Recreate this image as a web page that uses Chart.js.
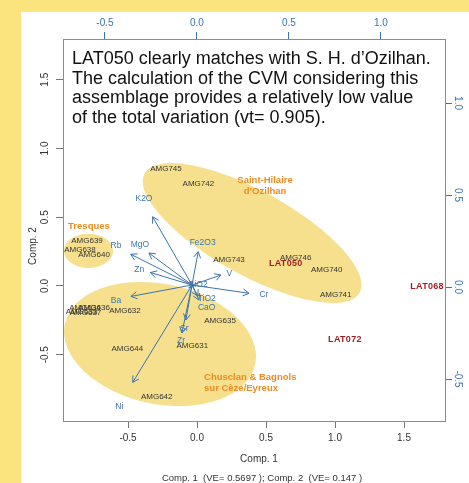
<!DOCTYPE html>
<html>
<head>
<meta charset="utf-8">
<script src="https://cdn.jsdelivr.net/npm/chart.js@4.4.1/dist/chart.umd.min.js"></script>
<style>
  html, body { margin: 0; padding: 0; }
  body { width: 469px; height: 483px; background: #fbe47e; position: relative; overflow: hidden;
         font-family: "Liberation Sans", Arial, sans-serif; }
  #sheet { position: absolute; left: 21px; top: 12px; right: 0; bottom: 0; background: #fff; }
  #chart { position: absolute; left: 0; top: 0; }
  #note { position: absolute; left: 72px; top: 49px; font-size: 18px; line-height: 19.7px; color: #111; white-space: nowrap; }
</style>
</head>
<body>
<div id="sheet"></div>
<canvas id="chart" width="469" height="483"></canvas>
<div id="note">LAT050 clearly matches with S. H. d’Ozilhan.<br>The calculation of the CVM considering this<br>assemblage provides a relatively low value<br>of the total variation (vt= 0.905).</div>
<script>
// axis ticks (scores on bottom/left, loadings on top/right)
const xTicks = [-0.5, 0, 0.5, 1, 1.5];
const yTicks = [-0.5, 0, 0.5, 1, 1.5];
const x2Ticks = [-0.5, 0, 0.5, 1];
const y2Ticks = [-0.5, 0, 0.5, 1];

// reference samples (scores)
const sampleNames = ["AMG745", "AMG742", "AMG743", "AMG746", "AMG740", "AMG741",
  "AMG639", "AMG638", "AMG640", "AMG634", "AMG636", "AMG633", "AMG637",
  "AMG632", "AMG635", "AMG631", "AMG644", "AMG642"];
const sampleX = [-0.225, 0.010, 0.232, 0.715, 0.940, 1.005,
  -0.797, -0.848, -0.746, -0.812, -0.746, -0.837, -0.808,
  -0.522, 0.167, -0.034, -0.505, -0.292];
const sampleY = [0.849, 0.740, 0.189, 0.206, 0.116, -0.065,
  0.327, 0.262, 0.225, -0.156, -0.156, -0.189, -0.193,
  -0.177, -0.250, -0.434, -0.460, -0.807];

// archaeological samples
const latNames = ["LAT050", "LAT068", "LAT072"];
const latX = [0.643, 1.667, 1.072];
const latY = [0.160, -0.007, -0.393];

// variables (loadings): label position and arrow tip
const varNames = ["K2O", "Rb", "MgO", "Zn", "Ba", "Fe2O3", "V", "Cr", "TiO2", "CaO", "SiO2", "Sr", "Zr", "Ni"];
const varLabelX = [-0.288, -0.440, -0.310, -0.314, -0.440, 0.031, 0.176, 0.364, 0.053, 0.053, 0.007, -0.069, -0.087, -0.422];
const varLabelY = [0.478, 0.223, 0.232, 0.092, -0.072, 0.241, 0.071, -0.043, -0.061, -0.113, 0.015, -0.224, -0.293, -0.648];
const varTipX = [-0.241, -0.360, -0.261, -0.253, -0.359, 0.007, 0.130, 0.283, 0.005, 0.011, -0.011, -0.060, -0.082, -0.349];
const varTipY = [0.382, 0.178, 0.185, 0.079, -0.051, 0.192, 0.065, -0.034, -0.049, -0.071, 0.008, -0.179, -0.250, -0.518];
const arrowOrigin = [-0.027, 0.011];

// production groups (ellipses in score units)
const groupNames = [["Saint-Hilaire", "d’Ozilhan"], ["Tresques"], ["Chusclan & Bagnols", "sur Cèze/Eyreux"]];
const groupLabelX = [0.493, -0.783, 0.051];
const groupLabelY = [0.771, 0.436, -0.662];
const groupAlign = ["center", "center", "left"];
const ellCx = [0.399, -0.786, -0.268];
const ellCy = [0.385, 0.255, -0.422];
const ellA = [0.891, 0.178, 0.705];
const ellB = [0.304, 0.124, 0.435];
const ellAngle = [29, 0, 12];

const FONT = '"Liberation Sans", Arial, sans-serif';
const BLUE = "#3b74ae";
const GREY = "#333333";

function arrow(ctx, x0, y0, x1, y1) {
  ctx.beginPath();
  ctx.moveTo(x0, y0);
  ctx.lineTo(x1, y1);
  const ang = Math.atan2(y1 - y0, x1 - x0), L = 7;
  ctx.moveTo(x1 - L * Math.cos(ang - Math.PI / 6), y1 - L * Math.sin(ang - Math.PI / 6));
  ctx.lineTo(x1, y1);
  ctx.lineTo(x1 - L * Math.cos(ang + Math.PI / 6), y1 - L * Math.sin(ang + Math.PI / 6));
  ctx.stroke();
}

const sketch = {
  id: "sketch",
  beforeDatasetsDraw(chart) {
    const { ctx, chartArea: a, scales: { x, y } } = chart;
    const unit = x.getPixelForValue(1) - x.getPixelForValue(0);
    ctx.save();
    ctx.beginPath();
    ctx.rect(a.left, a.top, a.right - a.left, a.bottom - a.top);
    ctx.clip();
    ctx.fillStyle = "#f6e08e";
    ellCx.forEach((cx, i) => {
      ctx.beginPath();
      ctx.ellipse(x.getPixelForValue(cx), y.getPixelForValue(ellCy[i]),
        ellA[i] * unit, ellB[i] * unit, ellAngle[i] * Math.PI / 180, 0, Math.PI * 2);
      ctx.fill();
    });
    ctx.restore();
  },
  afterDatasetsDraw(chart) {
    const { ctx, scales: { x, y, x2, y2 } } = chart;
    ctx.save();
    ctx.textBaseline = "middle";

    // group names
    ctx.fillStyle = "#f28a22";
    ctx.font = "bold 9.5px " + FONT;
    groupNames.forEach((lines, i) => {
      ctx.textAlign = groupAlign[i];
      lines.forEach((t, k) => {
        ctx.fillText(t, x.getPixelForValue(groupLabelX[i]), y.getPixelForValue(groupLabelY[i]) + k * 11);
      });
    });

    // sample labels
    ctx.textAlign = "center";
    ctx.fillStyle = GREY;
    ctx.font = "8px " + FONT;
    chart.getDatasetMeta(0).data.forEach((p, i) => ctx.fillText(sampleNames[i], p.x, p.y));

    ctx.fillStyle = "#9c1c1f";
    ctx.font = "bold 9px " + FONT;
    if ("letterSpacing" in ctx) ctx.letterSpacing = "0.3px";
    chart.getDatasetMeta(1).data.forEach((p, i) => ctx.fillText(latNames[i], p.x, p.y));
    if ("letterSpacing" in ctx) ctx.letterSpacing = "0px";

    // arrows
    ctx.strokeStyle = BLUE;
    ctx.lineWidth = 1;
    const ox = x2.getPixelForValue(arrowOrigin[0]), oy = y2.getPixelForValue(arrowOrigin[1]);
    varNames.forEach((n, i) => {
      arrow(ctx, ox, oy, x2.getPixelForValue(varTipX[i]), y2.getPixelForValue(varTipY[i]));
    });
    ctx.fillStyle = BLUE;
    ctx.font = "8.5px " + FONT;
    chart.getDatasetMeta(2).data.forEach((p, i) => ctx.fillText(varNames[i], p.x, p.y));
    ctx.restore();
  },
  afterDraw(chart) {
    const { ctx, chartArea: a, scales: { y, y2 } } = chart;
    ctx.save();
    ctx.textAlign = "center";
    ctx.textBaseline = "middle";
    ctx.font = "10px " + FONT;

    ctx.fillStyle = GREY;
    yTicks.forEach(v => {
      ctx.save();
      ctx.translate(a.left - 18, y.getPixelForValue(v));
      ctx.rotate(-Math.PI / 2);
      ctx.fillText(v.toFixed(1), 0, 0);
      ctx.restore();
    });
    ctx.fillStyle = BLUE;
    y2Ticks.forEach(v => {
      ctx.save();
      ctx.translate(a.right + 13, y2.getPixelForValue(v));
      ctx.rotate(Math.PI / 2);
      ctx.fillText(v.toFixed(1), 0, 0);
      ctx.restore();
    });

    // axis titles
    ctx.fillStyle = GREY;
    ctx.font = "10px " + FONT;
    ctx.fillText("Comp. 1", (a.left + a.right) / 2 + 5, a.bottom + 38);
    ctx.font = "9.5px " + FONT;
    ctx.fillText("Comp. 1  (VE= 0.5697 ); Comp. 2  (VE= 0.147 )", (a.left + a.right) / 2 + 8, a.bottom + 57);
    ctx.save();
    ctx.font = "10px " + FONT;
    ctx.translate(a.left - 30, (a.top + a.bottom) / 2 + 16);
    ctx.rotate(-Math.PI / 2);
    ctx.fillText("Comp. 2", 0, 0);
    ctx.restore();
    ctx.restore();
  }
};

function fixedTicks(list) {
  return s => { s.ticks = list.map(v => ({ value: v })); };
}

new Chart(document.getElementById("chart"), {
  type: "scatter",
  data: {
    datasets: [
      { data: sampleX.map((v, i) => ({ x: v, y: sampleY[i] })), xAxisID: "x", yAxisID: "y", pointRadius: 0 },
      { data: latX.map((v, i) => ({ x: v, y: latY[i] })), xAxisID: "x", yAxisID: "y", pointRadius: 0 },
      { data: varLabelX.map((v, i) => ({ x: v, y: varLabelY[i] })), xAxisID: "x2", yAxisID: "y2", pointRadius: 0 }
    ]
  },
  options: {
    responsive: false,
    animation: false,
    devicePixelRatio: 1,
    layout: { padding: 0 },
    plugins: { legend: { display: false }, tooltip: { enabled: false } },
    scales: {
      x: {
        position: "bottom", min: -0.971, max: 1.797,
        afterBuildTicks: fixedTicks(xTicks),
        afterFit: s => { s.height = 62; },
        grid: { drawOnChartArea: false, tickLength: 7, color: "#777" },
        border: { color: "#8c8c8c" },
        ticks: { font: { size: 10, family: FONT }, color: GREY, padding: 4, maxRotation: 0, callback: v => v.toFixed(1) }
      },
      y: {
        position: "left", min: -0.982, max: 1.796,
        afterBuildTicks: fixedTicks(yTicks),
        afterFit: s => { s.width = 63; },
        grid: { drawOnChartArea: false, tickLength: 7, color: "#777" },
        border: { color: "#8c8c8c" },
        ticks: { display: false }
      },
      x2: {
        position: "top", min: -0.728, max: 1.348,
        afterBuildTicks: fixedTicks(x2Ticks),
        afterFit: s => { s.height = 39; },
        grid: { drawOnChartArea: false, tickLength: 7, color: BLUE },
        border: { color: "#8c8c8c" },
        ticks: { font: { size: 10, family: FONT }, color: BLUE, padding: 3, maxRotation: 0, callback: v => v.toFixed(1) }
      },
      y2: {
        position: "right", min: -0.728, max: 1.348,
        afterBuildTicks: fixedTicks(y2Ticks),
        afterFit: s => { s.width = 24; },
        grid: { drawOnChartArea: false, tickLength: 7, color: BLUE },
        border: { color: "#8c8c8c" },
        ticks: { display: false }
      }
    }
  },
  plugins: [sketch]
});
</script>
</body>
</html>
